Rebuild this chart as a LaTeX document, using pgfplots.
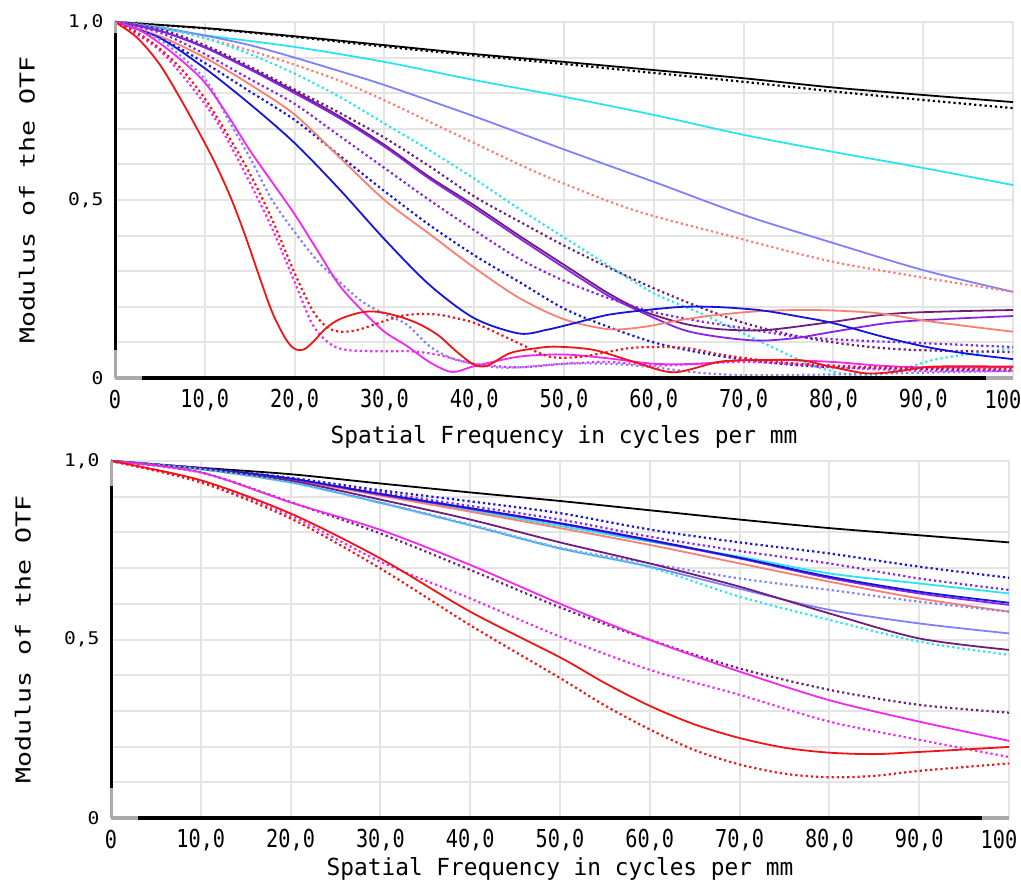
\documentclass[border=0pt]{standalone}
\usepackage{pgfplots}
\pgfplotsset{compat=1.18}
\usepackage{fontspec}
\setmainfont{DejaVu Sans Mono}
\newfontfamily\xtickfont[FakeStretch=0.82]{DejaVu Sans Mono}
\newfontfamily\xlabfont[FakeStretch=0.97]{DejaVu Sans Mono}
\newfontfamily\ylabfont[FakeStretch=1.29]{DejaVu Sans Mono}
\newfontfamily\ytickfont[FakeStretch=1.12]{DejaVu Sans Mono}
\newcommand\xtf{\xtickfont\fontsize{24.7}{25}\selectfont}
\newcommand\xlf{\xlabfont\fontsize{23.5}{24}\selectfont}
\newcommand\ylf{\ylabfont\fontsize{20.6}{21}\selectfont}
\newcommand\ytf{\ytickfont\fontsize{17.5}{18}\selectfont}
\definecolor{cBlack}{RGB}{0,0,0}
\definecolor{cCyan}{RGB}{40,230,235}
\definecolor{cLav}{RGB}{128,128,255}
\definecolor{cSal}{RGB}{248,128,114}
\definecolor{cBlue}{RGB}{20,20,220}
\definecolor{cVio}{RGB}{135,35,230}
\definecolor{cDPur}{RGB}{110,30,120}
\definecolor{cMag}{RGB}{240,40,240}
\definecolor{cRed}{RGB}{240,20,20}
\definecolor{cGrid}{RGB}{228,228,228}
\definecolor{cAxGray}{RGB}{170,170,170}
\pgfplotsset{
 sol/.style={line width=1.8pt, smooth, tension=0.5, mark=none},
 dot/.style={line width=2.2pt, dash pattern=on 2.2pt off 3pt, smooth, tension=0.5, mark=none},
 mtf/.style={
  scale only axis, width=898pt,
  xmin=0, xmax=100, ymin=0, ymax=1, clip=false,
  xtick={0,10,20,30,40,50,60,70,80,90},
  xticklabels={0,{10,0},{20,0},{30,0},{40,0},{50,0},{60,0},{70,0},{80,0},{90,0}},
  extra x ticks={100}, extra x tick labels={100},
  extra x tick style={grid=major, xticklabel style={xshift=-10pt}},
  ytick={0,0.5,1}, yticklabels={0,{0,5},{1,0}},
  minor ytick={0.1,0.2,0.3,0.4,0.6,0.7,0.8,0.9},
  grid=both,
  major grid style={draw=cGrid, line width=2pt},
  minor grid style={draw=cGrid, line width=2pt},
  major tick length=0pt, minor tick length=0pt,
  axis line style={draw=none},
  xticklabel style={font=\xtf, anchor=center, yshift=-22pt},
  yticklabel style={font=\ytf, anchor=east, xshift=-8pt},
  xlabel={Spatial Frequency in cycles per mm},
  xlabel style={font=\xlf, at={(axis description cs:0.5,-0.166)}, anchor=center},
  ylabel={Modulus of the OTF},
  ylabel style={font=\ylf, at={(axis description cs:-0.098,0.5)}, anchor=center},
 }
}
\begin{document}
\begin{tikzpicture}
\useasboundingbox (0pt,0pt) rectangle (1021pt,-883pt);
% ---------------- top chart ----------------
\begin{axis}[mtf, at={(115pt,-22pt)}, anchor=north west, height=356pt]
\addplot[dot, color=cBlack] coordinates {(0,1)(10,0.982)(20,0.958)(30,0.931)(40,0.906)(50,0.882)(60,0.857)(70,0.832)(80,0.805)(90,0.781)(100,0.758)};
\addplot[sol, color=cBlack] coordinates {(0,1)(10,0.983)(20,0.96)(30,0.935)(40,0.91)(50,0.888)(60,0.865)(70,0.842)(80,0.816)(90,0.795)(100,0.775)};
\addplot[sol, color=cCyan] coordinates {(0,1)(10,0.963)(20,0.93)(30,0.888)(40,0.837)(50,0.79)(60,0.739)(70,0.683)(80,0.635)(90,0.59)(100,0.542)};
\addplot[sol, color=cLav] coordinates {(0,1)(5,0.985)(10,0.962)(15,0.935)(20,0.9)(25,0.862)(30,0.823)(40,0.735)(50,0.642)(60,0.551)(70,0.458)(80,0.379)(90,0.303)(100,0.242)};
\addplot[dot, color=cSal] coordinates {(0,1)(5,0.985)(10,0.955)(15,0.92)(20,0.88)(25,0.835)(30,0.78)(35,0.72)(40,0.66)(45,0.6)(49,0.556)(57.7,0.472)(67.4,0.406)(79.3,0.33)(89.3,0.285)(100,0.242)};
\addplot[dot, color=cCyan] coordinates {(0,1)(5,0.985)(10,0.955)(15,0.91)(20,0.855)(25,0.79)(30,0.715)(35,0.64)(40,0.56)(45,0.475)(50,0.395)(55,0.315)(60,0.238)(65,0.184)(70,0.125)(75,0.065)(78,0.032)(83,0.005)(87,0.02)(91,0.05)(95,0.067)(100,0.084)};
\addplot[dot, color=cDPur] coordinates {(0,1)(5,0.98)(10,0.935)(15,0.875)(20,0.81)(25,0.745)(30,0.675)(35,0.595)(40,0.51)(45,0.44)(50,0.372)(55,0.31)(60,0.252)(65,0.2)(70,0.155)(75,0.123)(80,0.1)(85,0.085)(90,0.078)(100,0.073)};
\addplot[dot, color=cVio] coordinates {(0,1)(5,0.97)(10,0.91)(15,0.84)(20,0.77)(25,0.68)(30,0.59)(35,0.5)(40,0.415)(45,0.335)(50,0.273)(55,0.224)(60,0.185)(65,0.16)(70,0.14)(76,0.116)(83,0.105)(89,0.099)(100,0.087)};
\addplot[dot, color=cBlue] coordinates {(0,1)(5,0.955)(10,0.885)(15,0.805)(20,0.725)(25,0.625)(30,0.525)(35,0.43)(40,0.345)(45,0.27)(50,0.195)(55,0.143)(60,0.1)(65,0.072)(70,0.052)(75,0.038)(80,0.03)(90,0.025)(100,0.02)};
\addplot[sol, color=cDPur] coordinates {(0,1)(5,0.975)(10,0.93)(15,0.87)(20,0.805)(25,0.735)(30,0.655)(35,0.565)(40,0.485)(45,0.4)(50,0.318)(55,0.237)(58.8,0.188)(63.3,0.153)(67.4,0.137)(72.6,0.135)(80,0.158)(87.4,0.182)(100,0.191)};
\addplot[sol, color=cVio] coordinates {(0,1)(5,0.975)(10,0.928)(15,0.867)(20,0.8)(25,0.73)(30,0.65)(35,0.56)(40,0.478)(45,0.393)(50,0.31)(55,0.23)(58.8,0.183)(63.3,0.135)(67.4,0.115)(71.8,0.105)(76,0.113)(80,0.13)(87.4,0.158)(100,0.174)};
\addplot[sol, color=cSal] coordinates {(0,1)(5,0.96)(10,0.9)(15,0.825)(20,0.74)(25,0.62)(30,0.5)(35,0.405)(40,0.31)(45,0.225)(50,0.165)(55,0.137)(59,0.144)(63,0.163)(67,0.177)(72,0.188)(78,0.191)(85,0.182)(91,0.158)(100,0.13)};
\addplot[sol, color=cBlue] coordinates {(0,1)(5,0.955)(10,0.87)(15,0.77)(20,0.66)(25,0.53)(30,0.39)(35,0.262)(40,0.168)(45,0.125)(48,0.135)(51,0.153)(54.8,0.177)(58.8,0.19)(63.3,0.2)(67.4,0.199)(72,0.19)(76.3,0.172)(80,0.154)(85.5,0.116)(90.4,0.087)(95,0.068)(100,0.053)};
\addplot[dot, color=cLav] coordinates {(0,1)(5,0.95)(10,0.84)(12.5,0.73)(15,0.62)(17.5,0.5)(20,0.41)(22.5,0.33)(25,0.27)(27.5,0.215)(30,0.18)(32.5,0.15)(35,0.09)(37.5,0.055)(40,0.04)(42.5,0.03)(45,0.03)(50,0.04)(55,0.04)(60,0.03)(65,0.015)(70,0.008)(80,0.01)(90,0.015)(100,0.02)};
\addplot[sol, color=cMag] coordinates {(0,1)(2.5,0.98)(5,0.94)(7.5,0.89)(10,0.83)(12.5,0.74)(15,0.64)(17.5,0.55)(20,0.46)(22.5,0.36)(25,0.26)(27.5,0.19)(30,0.13)(32.5,0.09)(35,0.045)(37.5,0.017)(40,0.033)(45,0.06)(50,0.066)(55,0.055)(60,0.04)(65,0.04)(70,0.05)(75,0.05)(80,0.045)(85,0.035)(90,0.03)(100,0.03)};
\addplot[dot, color=cMag] coordinates {(0,1)(5,0.92)(10,0.77)(12.5,0.67)(15,0.55)(17.5,0.42)(20,0.27)(22,0.15)(24,0.095)(26,0.078)(30,0.075)(33,0.075)(36,0.065)(40,0.04)(45,0.03)(50,0.04)(55,0.045)(60,0.035)(65,0.04)(70,0.045)(75,0.04)(80,0.03)(90,0.02)(100,0.02)};
\addplot[dot, color=cRed] coordinates {(0,1)(2.5,0.97)(5,0.925)(7.5,0.865)(10,0.785)(12.5,0.685)(15,0.575)(17.5,0.445)(20,0.295)(22,0.19)(23.5,0.145)(25,0.13)(27,0.135)(30,0.16)(32,0.175)(34,0.18)(36,0.178)(38,0.168)(40.3,0.152)(45.1,0.096)(48.4,0.06)(52,0.06)(57.7,0.085)(63.3,0.085)(67.4,0.066)(72,0.05)(76.3,0.04)(85,0.03)(100,0.025)};
\addplot[sol, color=cRed] coordinates {(0,1)(2.5,0.955)(5,0.88)(7.5,0.775)(10,0.66)(11.5,0.585)(13,0.5)(14.5,0.4)(16,0.29)(17.5,0.185)(19,0.11)(20,0.082)(21,0.08)(22,0.1)(23.5,0.14)(25,0.165)(27,0.182)(28.5,0.187)(30,0.183)(32,0.17)(34,0.15)(36,0.12)(38,0.075)(40,0.037)(41.5,0.035)(44,0.07)(47,0.084)(49.2,0.088)(53.3,0.079)(57.7,0.046)(62.2,0.016)(67.4,0.046)(71.8,0.05)(76.3,0.05)(80,0.03)(83.7,0.013)(87,0.018)(91.1,0.032)(100,0.032)};
\draw[line width=3.5pt, cAxGray] (axis cs:0,0) -- (axis cs:100,0);
\draw[line width=3.5pt, black] (axis cs:3,0) -- (axis cs:97,0);
\draw[line width=3pt, cAxGray] (axis cs:0,0) -- (axis cs:0,1);
\draw[line width=3pt, black] (axis cs:0,0.08) -- (axis cs:0,0.97);
\end{axis}
% ---------------- bottom chart ----------------
\begin{axis}[mtf, at={(111pt,-461pt)}, anchor=north west, height=357pt,
  xlabel style={at={(axis description cs:0.5,-0.142)}}]
\addplot[sol, color=cBlack] coordinates {(0,1)(10,0.981)(20,0.963)(30,0.937)(40,0.912)(50,0.888)(60,0.862)(70,0.836)(80,0.812)(90,0.792)(100,0.772)};
\addplot[dot, color=cBlue] coordinates {(0,1)(10,0.98)(20,0.953)(30,0.918)(40,0.887)(50,0.854)(60,0.808)(70,0.772)(80,0.741)(90,0.704)(100,0.673)};
\addplot[dot, color=cVio] coordinates {(0,1)(10,0.979)(20,0.95)(30,0.912)(40,0.874)(50,0.836)(60,0.788)(70,0.748)(80,0.713)(90,0.671)(100,0.639)};
\addplot[sol, color=cCyan] coordinates {(0,1)(10,0.979)(20,0.949)(30,0.905)(40,0.862)(50,0.818)(60,0.774)(70,0.732)(80,0.685)(90,0.657)(100,0.629)};
\addplot[sol, color=cSal] coordinates {(0,1)(10,0.979)(20,0.948)(30,0.903)(40,0.858)(50,0.812)(60,0.765)(70,0.713)(80,0.662)(90,0.615)(100,0.578)};
\addplot[sol, color=cVio] coordinates {(0,1)(10,0.979)(20,0.95)(30,0.906)(40,0.866)(50,0.824)(60,0.777)(70,0.727)(80,0.672)(90,0.629)(100,0.597)};
\addplot[sol, color=cBlue] coordinates {(0,1)(10,0.98)(20,0.951)(30,0.908)(40,0.868)(50,0.826)(60,0.779)(70,0.729)(80,0.676)(90,0.634)(100,0.603)};
\addplot[dot, color=cLav] coordinates {(0,1)(10,0.977)(20,0.94)(30,0.884)(40,0.822)(50,0.757)(60,0.713)(70,0.671)(80,0.639)(90,0.606)(100,0.578)};
\addplot[sol, color=cLav] coordinates {(0,1)(10,0.977)(20,0.94)(30,0.883)(40,0.82)(50,0.755)(60,0.704)(70,0.642)(80,0.583)(90,0.545)(100,0.517)};
\addplot[sol, color=cDPur] coordinates {(0,1)(10,0.978)(20,0.945)(30,0.892)(40,0.836)(50,0.772)(60,0.713)(70,0.648)(80,0.573)(90,0.503)(100,0.471)};
\addplot[dot, color=cCyan] coordinates {(0,1)(10,0.977)(20,0.94)(30,0.882)(40,0.82)(50,0.755)(60,0.702)(70,0.62)(80,0.555)(90,0.494)(100,0.457)};
\addplot[dot, color=cDPur] coordinates {(0,1)(10,0.968)(20,0.885)(30,0.797)(40,0.695)(50,0.59)(60,0.499)(70,0.419)(80,0.359)(90,0.317)(100,0.295)};
\addplot[sol, color=cMag] coordinates {(0,1)(10,0.968)(20,0.884)(30,0.807)(40,0.709)(50,0.6)(60,0.499)(70,0.41)(80,0.33)(90,0.27)(100,0.216)};
\addplot[dot, color=cMag] coordinates {(0,1)(10,0.945)(20,0.847)(30,0.718)(40,0.615)(50,0.508)(60,0.415)(70,0.345)(80,0.27)(90,0.219)(100,0.171)};
\addplot[sol, color=cRed] coordinates {(0,1)(10,0.946)(20,0.853)(30,0.727)(40,0.578)(50,0.45)(55,0.378)(60,0.314)(65,0.262)(70,0.224)(75,0.197)(80,0.183)(85,0.179)(90,0.185)(100,0.199)};
\addplot[dot, color=cRed] coordinates {(0,1)(10,0.94)(20,0.839)(30,0.699)(40,0.54)(50,0.392)(55,0.315)(60,0.248)(65,0.19)(70,0.15)(75,0.124)(80,0.114)(85,0.118)(90,0.132)(100,0.153)};
\draw[line width=3.5pt, cAxGray] (axis cs:0,0) -- (axis cs:100,0);
\draw[line width=3.5pt, black] (axis cs:3,0) -- (axis cs:97,0);
\draw[line width=3pt, cAxGray] (axis cs:0,0) -- (axis cs:0,1);
\draw[line width=3pt, black] (axis cs:0,0.085) -- (axis cs:0,0.93);
\end{axis}
\end{tikzpicture}
\end{document}
